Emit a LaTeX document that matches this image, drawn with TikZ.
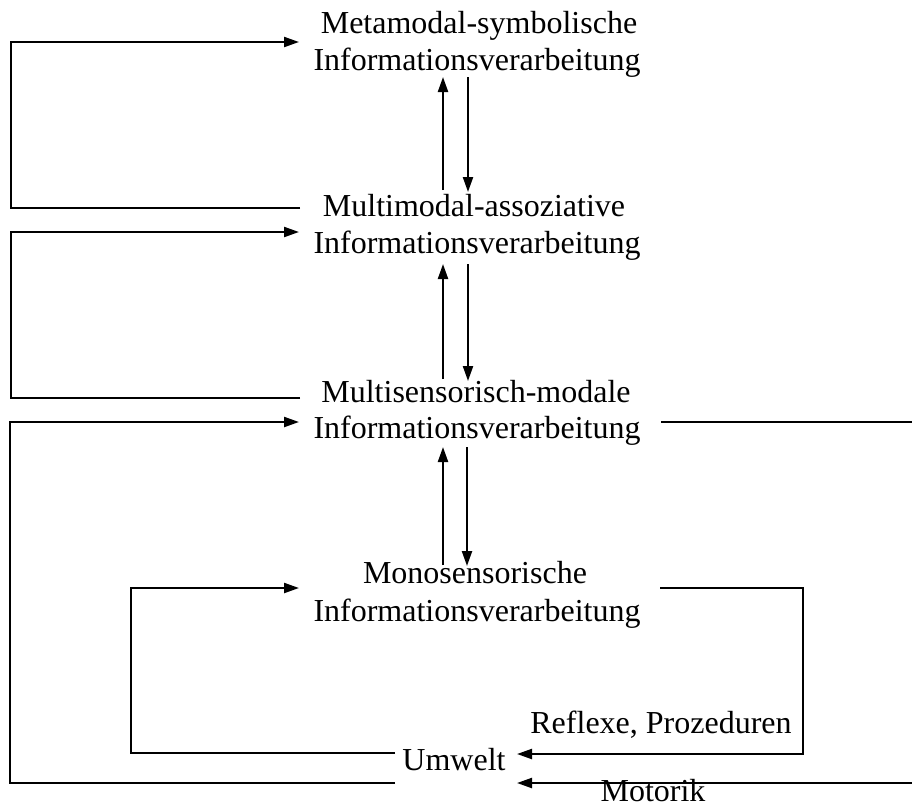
\documentclass[tikz,border=0pt]{standalone}
\usepackage{fontspec}
\setmainfont{Liberation Serif}
\usetikzlibrary{arrows.meta}
\begin{document}
\begin{tikzpicture}[x=1pt,y=-1pt,
  lbl/.style={anchor=base,inner sep=0pt,font=\fontsize{32}{37}\selectfont},
  conn/.style={line width=2.2pt},
  arr/.style={conn,-{Triangle[length=15pt,width=10pt]}}]
\useasboundingbox (0,0) rectangle (912,807);
% text
\node[lbl] (meta1) at (479,33) {Metamodal-symbolische};
\node[lbl] (meta2) at (477,70) {Informationsverarbeitung};
\node[lbl] (mm1) at (474,216) {Multimodal-assoziative};
\node[lbl] (mm2) at (477,253) {Informationsverarbeitung};
\node[lbl] (ms1) at (476,402) {Multisensorisch-modale};
\node[lbl] (ms2) at (477,438) {Informationsverarbeitung};
\node[lbl] (mo1) at (475,583) {Monosensorische};
\node[lbl] (mo2) at (477,621) {Informationsverarbeitung};
\node[lbl] (umw) at (454,770) {Umwelt};
\node[lbl] (refl) at (661,733) {Reflexe, Prozeduren};
\node[lbl] (mot) at (653,801) {Motorik};
% coordinates
\coordinate (a1s) at (300,208); \coordinate (a1c) at (11,208); \coordinate (a1e) at (299,42);
\coordinate (a2s) at (300,398); \coordinate (a2c) at (11,398); \coordinate (a2e) at (299,232);
\coordinate (a3s) at (395,783); \coordinate (a3c) at (10,783); \coordinate (a3e) at (299,422);
\coordinate (a4s) at (395,753); \coordinate (a4c) at (131,753); \coordinate (a4e) at (299,588);
\coordinate (r1s) at (660,588); \coordinate (r1c) at (803,588); \coordinate (r1e) at (517,754);
\coordinate (r2s) at (661,422); \coordinate (r2e) at (912,422);
\coordinate (m1s) at (912,783); \coordinate (m1e) at (517,783);
\coordinate (u1s) at (443,190); \coordinate (u1e) at (443,77);
\coordinate (d1s) at (468,77); \coordinate (d1e) at (468,192);
\coordinate (u2s) at (443,379); \coordinate (u2e) at (443,264);
\coordinate (d2s) at (468,264); \coordinate (d2e) at (468,381);
\coordinate (u3s) at (443,565); \coordinate (u3e) at (443,447);
\coordinate (d3s) at (467,447); \coordinate (d3e) at (467,566);
% loops
\draw[arr] (a1s) -- (a1c) |- (a1e);
\draw[arr] (a2s) -- (a2c) |- (a2e);
\draw[arr] (a3s) -- (a3c) |- (a3e);
\draw[arr] (a4s) -- (a4c) |- (a4e);
\draw[arr] (r1s) -- (r1c) |- (r1e);
\draw[conn] (r2s) -- (r2e);
\draw[arr] (m1s) -- (m1e);
% vertical pairs
\draw[arr] (u1s) -- (u1e);
\draw[arr] (d1s) -- (d1e);
\draw[arr] (u2s) -- (u2e);
\draw[arr] (d2s) -- (d2e);
\draw[arr] (u3s) -- (u3e);
\draw[arr] (d3s) -- (d3e);
\end{tikzpicture}
\end{document}
